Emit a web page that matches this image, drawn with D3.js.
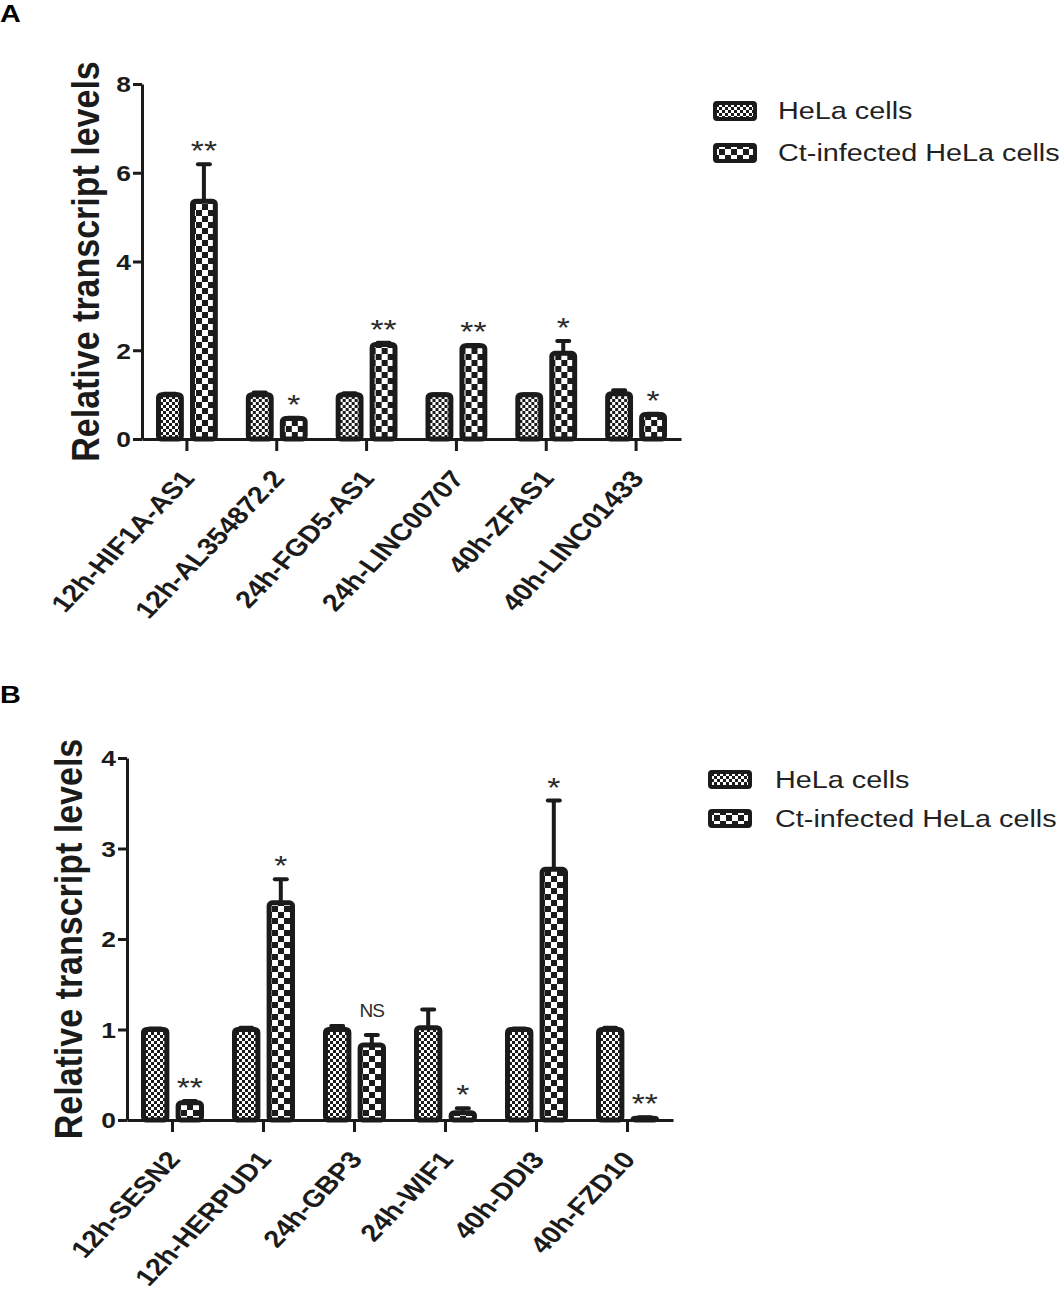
<!DOCTYPE html>
<html>
<head>
<meta charset="utf-8">
<script src="https://cdn.jsdelivr.net/npm/d3@7"></script>
<style>
body { margin: 0; background: #fff; }
text { font-family: Arial, "Liberation Sans", sans-serif; }
</style>
</head>
<body>
<svg id="chart" width="1064" height="1289"></svg>
<script>
// series names (legend)
var seriesNames = ["HeLa cells", "Ct-infected HeLa cells"];

// panel A - lncRNAs
var catsA = ["12h-HIF1A-AS1", "12h-AL354872.2", "24h-FGD5-AS1", "24h-LINC00707", "40h-ZFAS1", "40h-LINC01433"];
var helaA = [1.0, 1.0, 1.0, 1.0, 1.0, 1.02];
var helaErrA = [0.02, 0.05, 0.03, 0.01, 0.01, 0.08];
var ctA = [5.36, 0.46, 2.13, 2.1, 1.93, 0.55];
var ctErrA = [0.83, 0.02, 0.04, 0.02, 0.28, 0.02];
var sigA = ["**", "*", "**", "**", "*", "*"];
var yTicksA = [0, 2, 4, 6, 8];

// panel B - mRNAs
var catsB = ["12h-SESN2", "12h-HERPUD1", "24h-GBP3", "24h-WIF1", "40h-DDI3", "40h-FZD10"];
var helaB = [1.0, 1.0, 1.0, 1.02, 1.0, 1.0];
var helaErrB = [0.01, 0.02, 0.04, 0.2, 0.01, 0.02];
var ctB = [0.19, 2.4, 0.83, 0.08, 2.77, 0.02];
var ctErrB = [0.02, 0.26, 0.11, 0.05, 0.76, 0.01];
var sigB = ["**", "*", "NS", "*", "*", "**"];
var yTicksB = [0, 1, 2, 3, 4];

var ink = "#1b1b1b";
var sx = 1.2; // the figure is a bit wider than tall, text is stretched too

var svg = d3.select("#chart");
var defs = svg.append("defs");

// fine checker for HeLa, coarse checker for Ct-infected
function checker(id, cell) {
    var p = defs.append("pattern").attr("id", id)
        .attr("patternUnits", "userSpaceOnUse")
        .attr("width", cell * 2).attr("height", cell * 2);
    p.append("rect").attr("width", cell * 2).attr("height", cell * 2).attr("fill", "#fff");
    p.append("rect").attr("width", cell).attr("height", cell).attr("fill", ink);
    p.append("rect").attr("x", cell).attr("y", cell).attr("width", cell).attr("height", cell).attr("fill", ink);
}
checker("fine", 3);
checker("coarse", 6);
var fills = ["url(#fine)", "url(#coarse)"];

function drawPanel(p) {
    var g = svg.append("g");

    var x0 = d3.scaleBand().domain(p.cats).range([p.left, p.right]);
    var x1 = d3.scaleBand().domain([0, 1]).range([14, x0.bandwidth() - 14]).paddingInner(0.18);
    var y = d3.scaleLinear().domain([0, p.yMax]).range([p.bottom, p.top]);

    var rows = p.cats.map(function(c, i) {
        return {
            cat: c,
            sig: p.sig[i],
            vals: [
                {s: 0, v: p.hela[i], e: p.helaErr[i]},
                {s: 1, v: p.ct[i], e: p.ctErr[i]}
            ]
        };
    });

    var grp = g.selectAll(".grp").data(rows).enter().append("g")
        .attr("transform", function(d) { return "translate(" + x0(d.cat) + ",0)"; });

    // error bars first, bars drawn over them
    var eb = grp.selectAll(".err").data(function(d) { return d.vals; }).enter().append("g");
    eb.append("line")
        .attr("x1", function(d) { return x1(d.s) + x1.bandwidth() / 2; })
        .attr("x2", function(d) { return x1(d.s) + x1.bandwidth() / 2; })
        .attr("y1", function(d) { return y(d.v); })
        .attr("y2", function(d) { return y(d.v + d.e); })
        .attr("stroke", ink).attr("stroke-width", 4);
    eb.append("line")
        .attr("x1", function(d) { return x1(d.s) + x1.bandwidth() / 2 - 6; })
        .attr("x2", function(d) { return x1(d.s) + x1.bandwidth() / 2 + 6; })
        .attr("y1", function(d) { return y(d.v + d.e); })
        .attr("y2", function(d) { return y(d.v + d.e); })
        .attr("stroke", ink).attr("stroke-width", 4).attr("stroke-linecap", "round");

    grp.selectAll(".bar").data(function(d) { return d.vals; }).enter().append("rect")
        .attr("x", function(d) { return x1(d.s) + 2.5; })
        .attr("width", x1.bandwidth() - 5)
        .attr("y", function(d) { return y(d.v); })
        .attr("height", function(d) { return y(0) - y(d.v); })
        .attr("rx", 3)
        .attr("fill", function(d) { return fills[d.s]; })
        .attr("stroke", ink).attr("stroke-width", 5);

    // significance marks over the Ct bar
    grp.append("text")
        .attr("transform", function(d) {
            var v = d.vals[1];
            var ty = y(v.v + v.e) - (d.sig == "NS" ? 18 : 4);
            var tx = x1(1) + x1.bandwidth() / 2;
            return "translate(" + tx + "," + ty + ")" + (d.sig == "NS" ? "" : " scale(" + sx + ",1)");
        })
        .attr("text-anchor", "middle")
        .attr("font-size", function(d) { return d.sig == "NS" ? 19 : 28; })
        .attr("letter-spacing", function(d) { return d.sig == "NS" ? -1 : 0; })
        .attr("fill", "#2a2a2a")
        .text(function(d) { return d.sig; });

    // y axis
    var yAxis = g.append("g").attr("transform", "translate(" + p.left + ",0)")
        .call(d3.axisLeft(y).tickValues(p.yTicks).tickSize(9).tickSizeOuter(0).tickFormat(d3.format("d")));
    yAxis.select(".domain").attr("stroke", ink).attr("stroke-width", 3);
    yAxis.selectAll(".tick line").attr("stroke", ink).attr("stroke-width", 3);
    yAxis.selectAll(".tick text")
        .attr("x", 0).attr("dy", "0.36em")
        .attr("transform", "translate(-11,0) scale(" + sx + ",1)")
        .attr("font-size", 22).attr("font-weight", "bold").attr("fill", ink);

    // x axis
    var xAxis = g.append("g").attr("transform", "translate(0," + p.bottom + ")")
        .call(d3.axisBottom(x0).tickSize(12).tickSizeOuter(0));
    xAxis.select(".domain").attr("stroke", ink).attr("stroke-width", 3);
    xAxis.selectAll(".tick line").attr("stroke", ink).attr("stroke-width", 3);
    xAxis.selectAll(".tick text")
        .attr("x", 0).attr("y", 0).attr("dy", 0)
        .attr("text-anchor", "end")
        .attr("transform", "translate(9,40) scale(" + sx + ",1) rotate(-51)")
        .attr("font-size", 24).attr("font-weight", "bold").attr("fill", ink);

    // axis title
    g.append("text")
        .attr("transform", "translate(" + p.labelX + "," + (p.top + p.bottom) / 2 + ") rotate(-90) scale(1,1.15)")
        .attr("text-anchor", "middle").attr("dy", "0.36em")
        .attr("font-size", 34).attr("font-weight", "bold").attr("fill", ink)
        .text("Relative transcript levels");

    // panel letter
    g.append("text")
        .attr("transform", "translate(0," + p.letterY + ") scale(" + sx + ",1)")
        .attr("font-size", 24).attr("font-weight", "bold").attr("fill", "#000")
        .text(p.letter);

    // legend
    var leg = g.selectAll(".leg").data(seriesNames).enter().append("g")
        .attr("transform", function(d, i) { return "translate(" + p.legX + "," + (p.legY + i * p.legGap) + ")"; });
    leg.append("rect")
        .attr("x", 2).attr("y", 2).attr("width", 40).attr("height", p.legH - 4).attr("rx", 2)
        .attr("fill", function(d, i) { return fills[i]; })
        .attr("stroke", ink).attr("stroke-width", 4);
    leg.append("text")
        .attr("transform", "translate(" + (p.textX - p.legX) + "," + (p.legH / 2 + 8) + ") scale(" + sx + ",1)")
        .attr("font-size", 24).attr("fill", "#222")
        .text(function(d) { return d; });
}

drawPanel({
    letter: "A", letterY: 22,
    cats: catsA, hela: helaA, helaErr: helaErrA, ct: ctA, ctErr: ctErrA, sig: sigA,
    yTicks: yTicksA, yMax: 8,
    left: 142, right: 681, top: 84, bottom: 439, labelX: 85,
    legX: 713, legY: 101, legGap: 42, legH: 20, textX: 778
});

drawPanel({
    letter: "B", letterY: 703,
    cats: catsB, hela: helaB, helaErr: helaErrB, ct: ctB, ctErr: ctErrB, sig: sigB,
    yTicks: yTicksB, yMax: 4,
    left: 127, right: 673, top: 758, bottom: 1120, labelX: 68,
    legX: 708, legY: 770, legGap: 39, legH: 19, textX: 775
});
</script>
</body>
</html>
